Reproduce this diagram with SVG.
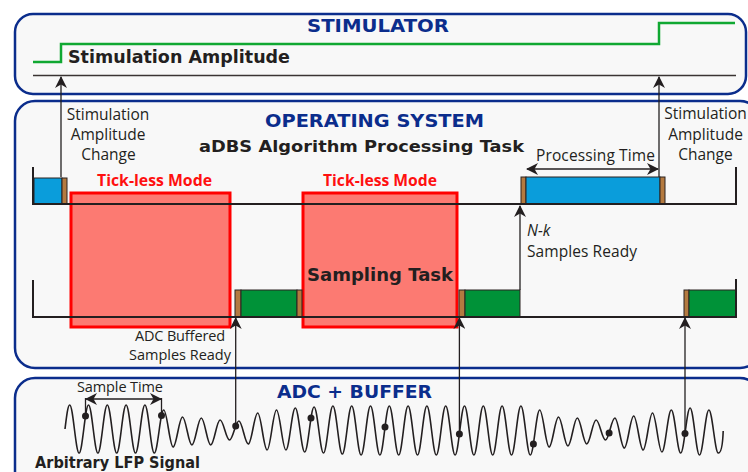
<svg xmlns="http://www.w3.org/2000/svg" width="748" height="472" viewBox="0 0 748 472">
<defs>
<style>
.panel{fill:#f8f8f8;stroke:#0b2d8c;stroke-width:2.5}
.title{font-family:"DejaVu Sans",Verdana,sans-serif;font-weight:bold;fill:#0b2d8c;font-size:18px}
.bold{font-family:"DejaVu Sans",Verdana,sans-serif;font-weight:bold;fill:#231f20}
.lbl{font-family:"Open Sans",sans-serif;fill:#231f20;font-size:15.5px}
.sm{font-family:"Open Sans",sans-serif;fill:#231f20;font-size:14.5px}
.red{font-family:"Open Sans",sans-serif;font-weight:bold;fill:#ff1010;font-size:15.5px}
.tl{stroke:#231f20;stroke-width:2;fill:none}
.conn{stroke:#231f20;stroke-width:1.3;fill:none}
.tick{fill:#fc7a72;stroke:#ff0000;stroke-width:3}
.blue{fill:#0a9ddb;stroke:#2b2320;stroke-width:1}
.green{fill:#009238;stroke:#2b2320;stroke-width:1}
.brown{fill:#b47a40;stroke:#2b2320;stroke-width:1}
.dot{fill:#231f20}
</style>
<marker id="ah" viewBox="0 0 12 12" markerWidth="12" markerHeight="12" refX="11" refY="6" orient="auto-start-reverse" markerUnits="userSpaceOnUse"><path d="M0,0 L12,6 L0,12 L3.5,6 z" fill="#231f20"/></marker>
</defs>
<rect width="748" height="472" fill="#ffffff"/>

<g id="stimulator">
<rect class="panel" x="15" y="14" width="731" height="80" rx="18"/>
<text class="title" x="378" y="32" text-anchor="middle" textLength="142" lengthAdjust="spacingAndGlyphs">STIMULATOR</text>
<polyline points="33,62 61,62 61,44 659,44 659,23 735,23" fill="none" stroke="#10a832" stroke-width="2.5"/>
<text class="bold" x="68" y="62.5" font-size="17" textLength="222" lengthAdjust="spacingAndGlyphs">Stimulation Amplitude</text>
<line x1="33" y1="75.5" x2="736" y2="75.5" stroke="#3a3433" stroke-width="1.5"/>
</g>

<g id="operating-system">
<rect class="panel" x="15" y="101" width="745" height="267" rx="20"/>
<text class="title" x="374.5" y="127" text-anchor="middle" textLength="219" lengthAdjust="spacingAndGlyphs">OPERATING SYSTEM</text>
<text class="bold" x="361.5" y="151.5" text-anchor="middle" font-size="16.5" textLength="325" lengthAdjust="spacingAndGlyphs">aDBS Algorithm Processing Task</text>
</g>

<g id="adc-buffer">
<rect class="panel" x="15" y="378" width="745" height="130" rx="20"/>
<text class="title" x="354.5" y="398" text-anchor="middle" textLength="155" lengthAdjust="spacingAndGlyphs">ADC + BUFFER</text>
</g>

<g id="tickless-1">
<rect class="tick" x="71" y="193" width="159" height="134"/>
<text class="red" x="154.5" y="186" text-anchor="middle" textLength="115" lengthAdjust="spacingAndGlyphs">Tick-less Mode</text>
</g>
<g id="tickless-2">
<rect class="tick" x="303" y="193" width="154" height="134"/>
<text class="red" x="380" y="186" text-anchor="middle" textLength="114" lengthAdjust="spacingAndGlyphs">Tick-less Mode</text>
</g>

<g id="processing-task">
<rect class="blue" x="34" y="178" width="28" height="26"/>
<rect class="brown" x="62" y="178" width="5" height="26"/>
<rect class="brown" x="521" y="177" width="5" height="27"/>
<rect class="blue" x="526" y="177" width="134" height="27"/>
<rect class="brown" x="660" y="177" width="5" height="27"/>
<polyline class="tl" points="33,167 33,204 736,204 736,167"/>
</g>

<g id="sampling-task">
<rect class="brown" x="235" y="290" width="6" height="27"/>
<rect class="green" x="241" y="290" width="56" height="27"/>
<rect class="brown" x="297" y="290" width="5" height="27"/>
<rect class="brown" x="459" y="290" width="6" height="27"/>
<rect class="green" x="465" y="290" width="55" height="27"/>
<rect class="brown" x="684" y="290" width="5" height="27"/>
<rect class="green" x="689" y="290" width="47" height="27"/>
<polyline class="tl" points="33,280 33,317 736,317 736,279"/>
<text class="bold" x="380" y="281" text-anchor="middle" font-size="17" textLength="146" lengthAdjust="spacingAndGlyphs">Sampling Task</text>
</g>

<g id="labels">
<text class="lbl" text-anchor="middle"><tspan x="108" y="120">Stimulation</tspan><tspan x="108" y="140">Amplitude</tspan><tspan x="108.5" y="160">Change</tspan></text>
<text class="lbl" text-anchor="middle"><tspan x="705.5" y="119">Stimulation</tspan><tspan x="705.5" y="140">Amplitude</tspan><tspan x="705.5" y="160">Change</tspan></text>
<text class="lbl" x="595.5" y="161" text-anchor="middle" textLength="119">Processing Time</text>
<text class="lbl" x="527" y="236" font-style="italic">N-k</text>
<text class="lbl" x="527" y="257" textLength="110">Samples Ready</text>
<text class="sm" x="180" y="341" text-anchor="middle" textLength="90">ADC Buffered</text>
<text class="sm" x="180" y="360" text-anchor="middle" textLength="102">Samples Ready</text>
<text class="sm" x="120" y="392" text-anchor="middle" textLength="86">Sample Time</text>
<text class="bold" x="35" y="467.5" font-size="15" textLength="165" lengthAdjust="spacingAndGlyphs">Arbitrary LFP Signal</text>
</g>

<g id="signal">
<path d="M65,429 C66.8,414 68,405 69.7,405 C73.12,405 75.68,453 79.1,453 S85.08,405 88.5,405 S94.48,453 97.9,453 S103.88,405 107.3,405 S113.28,453 116.7,453 S122.68,405 126.1,405 S132.08,453 135.5,453 S141.48,405 144.9,405 S150.88,453 154.3,453 S160.28,410 163.7,410 S169.68,447 173.1,447 S179.08,417 182.5,417 S188.48,445 191.9,445 S197.88,418 201.3,418 S207.28,445 210.7,445 S216.68,420 220.1,420 S226.08,440 229.5,440 S235.48,421 238.9,421 S244.88,444 248.3,444 S254.28,413 257.7,413 S263.68,450 267.1,450 S273.08,410 276.5,410 S282.48,450 285.9,450 S291.88,408 295.3,408 S301.28,452 304.7,452 S310.68,407 314.1,407 S320.08,453 323.5,453 S329.48,406 332.9,406 S338.88,454 342.3,454 S348.28,406 351.7,406 S357.68,455 361.1,455 S367.08,406 370.5,406 S376.48,455 379.9,455 S385.88,406 389.3,406 S395.28,455 398.7,455 S404.68,406 408.1,406 S414.08,455 417.5,455 S423.48,406 426.9,406 S432.88,455 436.3,455 S442.28,406 445.7,406 S451.68,455 455.1,455 S461.08,406 464.5,406 S470.48,455 473.9,455 S479.88,406 483.3,406 S489.28,455 492.7,455 S498.68,406 502.1,406 S508.08,455 511.5,455 S517.48,406 520.9,406 S526.88,455 530.3,455 S536.28,410 539.7,410 S545.68,447 549.1,447 S555.08,417 558.5,417 S564.48,446 567.9,446 S573.88,418 577.3,418 S583.28,444 586.7,444 S592.68,420 596.1,420 S602.08,440 605.5,440 S611.48,418 614.9,418 S620.88,448 624.3,448 S630.28,416 633.7,416 S639.68,450 643.1,450 S649.08,413 652.5,413 S658.48,452 661.9,452 S667.88,410 671.3,410 S677.28,453 680.7,453 S686.68,408 690.1,408 S696.08,455 699.5,455 S705.48,410 708.9,410 S714.88,453 718.3,453 S722.8,442 723.2,431" fill="none" stroke="#231f20" stroke-width="1.6"/>
<circle class="dot" cx="85.5" cy="416" r="3.5"/>
<circle class="dot" cx="161.5" cy="415.5" r="3.5"/>
<circle class="dot" cx="235.7" cy="426" r="3.5"/>
<circle class="dot" cx="311" cy="418" r="3.5"/>
<circle class="dot" cx="385" cy="427" r="3.5"/>
<circle class="dot" cx="459.4" cy="434" r="3.5"/>
<circle class="dot" cx="533.4" cy="444" r="3.5"/>
<circle class="dot" cx="609.1" cy="433" r="3.5"/>
<circle class="dot" cx="685" cy="433.5" r="3.5"/>
</g>

<g id="connectors">
<line class="conn" x1="61" y1="177" x2="61" y2="77" marker-end="url(#ah)"/>
<line class="conn" x1="659" y1="177" x2="659" y2="77" marker-end="url(#ah)"/>
<line class="conn" x1="527" y1="169" x2="658" y2="169" marker-start="url(#ah)" marker-end="url(#ah)"/>
<line class="conn" x1="520" y1="290" x2="520" y2="206" marker-end="url(#ah)"/>
<line class="conn" x1="235.7" y1="426" x2="235.7" y2="318" marker-end="url(#ah)"/>
<line class="conn" x1="459.4" y1="434" x2="459.4" y2="318" marker-end="url(#ah)"/>
<line class="conn" x1="685" y1="433.5" x2="685" y2="318" marker-end="url(#ah)"/>
<line class="conn" x1="86" y1="399" x2="161" y2="399" marker-start="url(#ah)" marker-end="url(#ah)"/>
<line class="conn" x1="85.5" y1="398" x2="85.5" y2="416"/>
<line class="conn" x1="161.5" y1="398" x2="161.5" y2="415.5"/>
</g>
</svg>
